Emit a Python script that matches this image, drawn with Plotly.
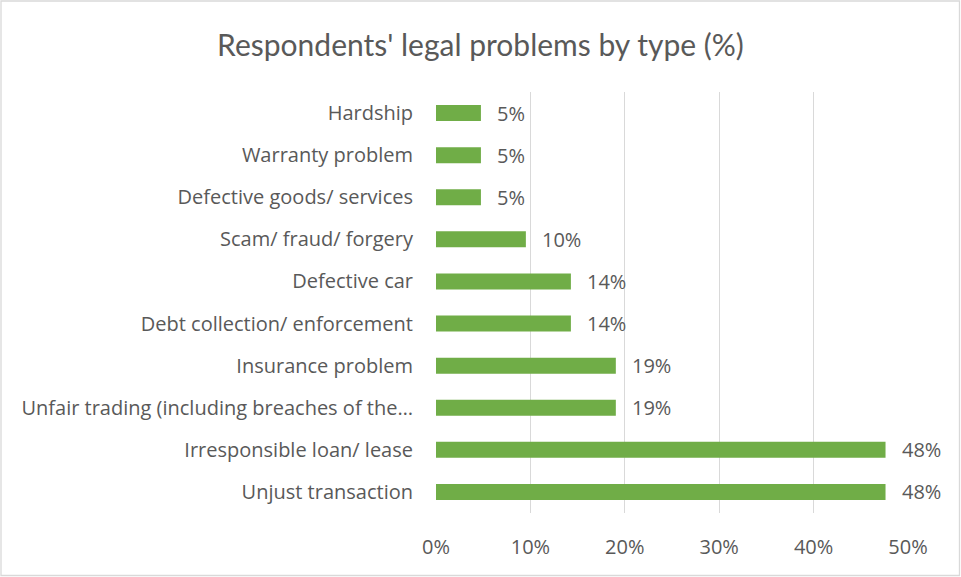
import plotly.graph_objects as go

# Legal problem types (top to bottom as displayed)
categories = [
    "Hardship",
    "Warranty problem",
    "Defective goods/ services",
    "Scam/ fraud/ forgery",
    "Defective car",
    "Debt collection/ enforcement",
    "Insurance problem",
    "Unfair trading (including breaches of the…",
    "Irresponsible loan/ lease",
    "Unjust transaction",
]
# Share of respondents (fraction)
shares = [0.0476, 0.0476, 0.0476, 0.0952, 0.1429, 0.1429, 0.1905, 0.1905, 0.4762, 0.4762]
x_ticks = [0, 0.1, 0.2, 0.3, 0.4, 0.5]

W, H = 961, 577
L, R, T, B = 436, 53, 92, 64
pw, ph = W - L - R, H - T - B

TEXT = "#595959"
FONT = "Open Sans"
TITLE_FONT = "Lato"

fig = go.Figure(
    go.Bar(
        x=shares,
        y=categories,
        orientation="h",
        marker=dict(color="#70ad47", line=dict(width=0)),
        width=0.38,
        hoverinfo="skip",
    )
)

# value labels to the right of each bar
for c, v in zip(categories, shares):
    fig.add_annotation(
        x=v, y=c, xref="x", yref="y",
        text=f"{v:.0%}", showarrow=False,
        xanchor="left", yanchor="middle", xshift=14,
        font=dict(family=FONT, size=20, color=TEXT),
    )

# outer chart border
fig.add_shape(
    type="rect", xref="paper", yref="paper",
    x0=(1 - L) / pw, x1=(959.5 - L) / pw,
    y0=(H - B - 575.5) / ph, y1=(H - B - 1) / ph,
    line=dict(color="#d9d9d9", width=1.3), fillcolor="rgba(0,0,0,0)", layer="below",
)

fig.update_layout(
    width=W, height=H,
    margin=dict(l=L, r=R, t=T, b=B, autoexpand=False),
    paper_bgcolor="white", plot_bgcolor="white",
    showlegend=False,
    title=dict(
        text="Respondents' legal problems by type (%)",
        x=(W / 2 - L) / pw, xanchor="center", xref="paper",
        y=1 - 45 / H, yanchor="middle", yref="container",
        font=dict(family=TITLE_FONT, size=30, color=TEXT),
    ),
    font=dict(family=FONT, color=TEXT),
)

fig.update_xaxes(
    range=[0, 0.5], tickvals=x_ticks, tickformat=".0%",
    showgrid=True, gridcolor="#d9d9d9", gridwidth=1.3,
    zeroline=False, showline=False, ticks="",
    tickfont=dict(family=FONT, size=20, color=TEXT),
    ticklabelstandoff=20, fixedrange=True,
)
fig.update_yaxes(
    categoryorder="array", categoryarray=categories,
    range=[9.5, -0.5],
    showgrid=False, zeroline=False, showline=False, ticks="",
    tickfont=dict(family=FONT, size=20, color=TEXT),
    ticklabelstandoff=22, fixedrange=True,
)

fig.write_html("out.html", config={"displayModeBar": False})
